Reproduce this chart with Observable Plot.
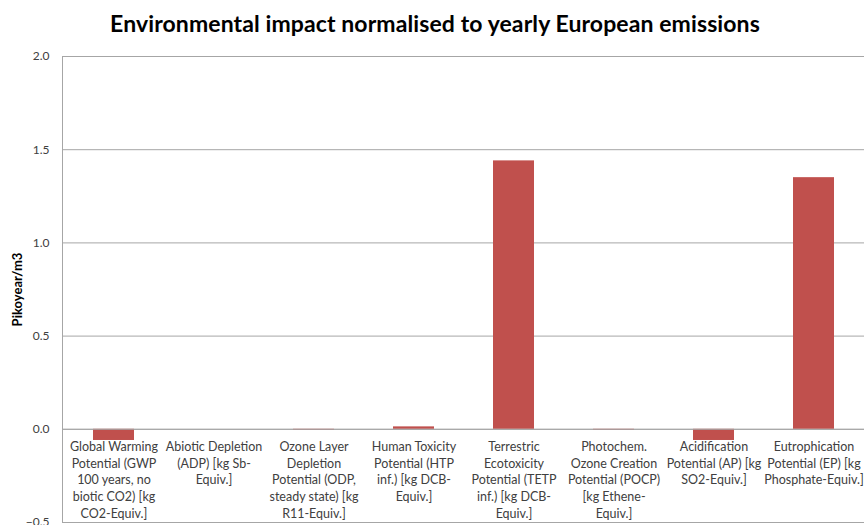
<!DOCTYPE html>
<html>
<head>
<meta charset="utf-8">
<script src="https://cdn.jsdelivr.net/npm/d3@7"></script>
<script src="https://cdn.jsdelivr.net/npm/@observablehq/plot@0.6"></script>
<style>
  html, body { margin: 0; padding: 0; background: #fff; }
  #title { width: 864px; height: 44px; box-sizing: border-box; padding-top: 9px; text-align: center;
    font-family: Lato, "Open Sans", sans-serif; font-weight: bold; font-size: 23px; color: #000; padding-left: 6px; letter-spacing: 0.1px; }
  #chart svg { display: block; }
  #chart svg [aria-label="y-axis label"] text { font-weight: bold; font-size: 13px; fill: #000; }
</style>
</head>
<body>
<div id="title">Environmental impact normalised to yearly European emissions</div>
<div id="chart"></div>
<script>
const categories = ["GWP", "ADP", "ODP", "HTP", "TETP", "POCP", "AP", "EP"];
const labels = [
  "Global Warming\nPotential (GWP\n100 years, no\nbiotic CO2) [kg\nCO2-Equiv.]",
  "Abiotic Depletion\n(ADP) [kg Sb-\nEquiv.]",
  "Ozone Layer\nDepletion\nPotential (ODP,\nsteady state) [kg\nR11-Equiv.]",
  "Human Toxicity\nPotential (HTP\ninf.) [kg DCB-\nEquiv.]",
  "Terrestric\nEcotoxicity\nPotential (TETP\ninf.) [kg DCB-\nEquiv.]",
  "Photochem.\nOzone Creation\nPotential (POCP)\n[kg Ethene-\nEquiv.]",
  "Acidification\nPotential (AP) [kg\nSO2-Equiv.]",
  "Eutrophication\nPotential (EP) [kg\nPhosphate-Equiv.]"
];
const values = [-0.06, 0.0, -0.005, 0.013, 1.44, -0.005, -0.06, 1.35];
const yTicks = [-0.5, 0, 0.5, 1.0, 1.5, 2.0];
const yLabel = "Pikoyear/m3";

const data = categories.map((c, i) => ({cat: c, label: labels[i], value: values[i]}));

const chart = Plot.plot({
  width: 864,
  height: 481,
  marginTop: 12,
  marginBottom: 3,
  marginLeft: 62,
  marginRight: 0,
  style: {fontFamily: "Lato, 'Open Sans', sans-serif", fontSize: "12px", color: "#404040", background: "#fff"},
  x: {domain: categories, axis: null, paddingInner: 0.59, paddingOuter: 0.295},
  y: {domain: [-0.5, 2.0], ticks: yTicks, tickFormat: d3.format(".1f"), tickSize: 0, tickPadding: 13,
      label: yLabel, labelAnchor: "center", labelArrow: false, labelOffset: 50},
  marks: [
    Plot.ruleY(yTicks, {stroke: "#a6a6a6", strokeWidth: 1}),
    Plot.frame({stroke: "#a6a6a6"}),
    Plot.barY(data, {x: "cat", y: "value", fill: "#C0504D"}),
    Plot.ruleY([0], {stroke: "#a6a6a6"}),
    Plot.text(data, {x: "cat", y: 0, text: "label", lineAnchor: "top", dy: 10, lineHeight: 1.33, fill: "#404040", fontSize: 12.5})
  ]
});
document.getElementById("chart").appendChild(chart);
</script>
</body>
</html>
